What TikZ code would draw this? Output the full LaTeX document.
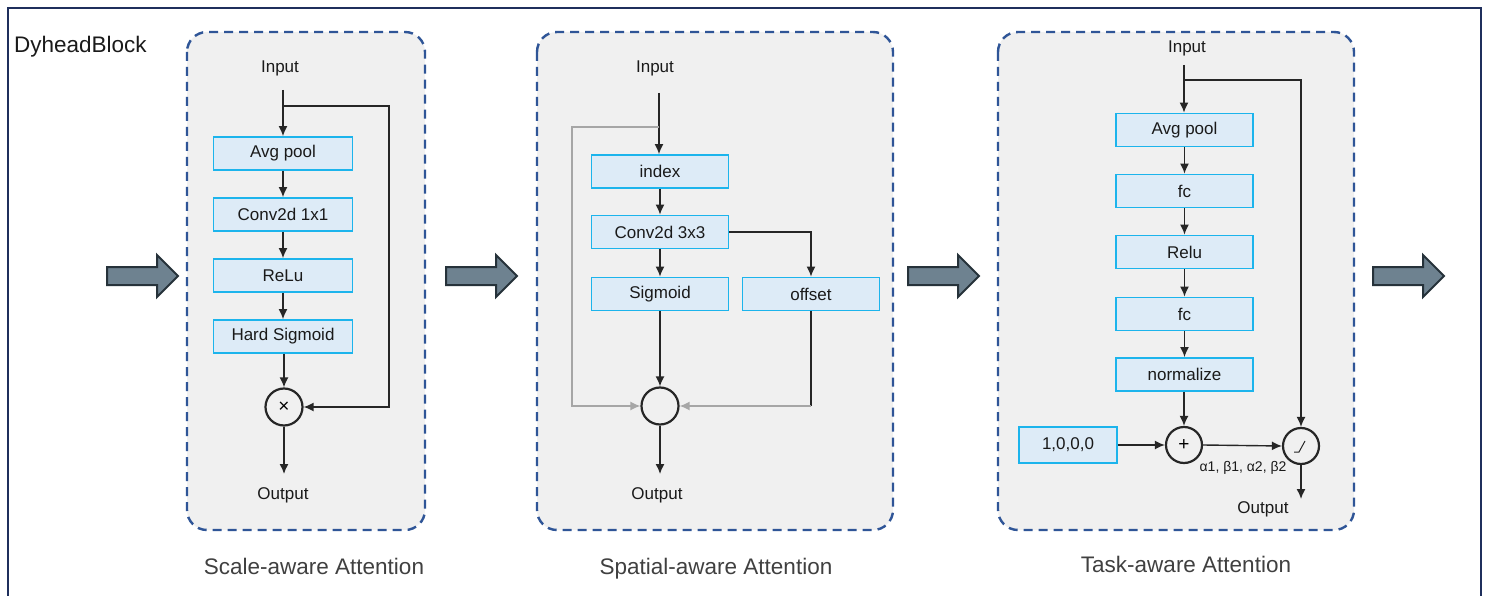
\documentclass[tikz,border=0pt]{standalone}
\usepackage{fontspec}
\setmainfont{Liberation Sans}
\usetikzlibrary{arrows.meta,calc}
\definecolor{panelfill}{HTML}{F0F0F0}
\definecolor{paneldraw}{HTML}{2F5597}
\definecolor{boxfill}{HTML}{DDEBF7}
\definecolor{boxdraw}{HTML}{1CB4EC}
\definecolor{framecol}{HTML}{1F2F5C}
\definecolor{bigfill}{HTML}{6E8290}
\definecolor{bigdraw}{HTML}{26323A}
\definecolor{capcol}{HTML}{404040}
\definecolor{glinecol}{HTML}{A6A6A6}
\definecolor{txtcol}{HTML}{1A1A1A}
\tikzset{
  panel/.style={draw=paneldraw, fill=panelfill, line width=2.4pt, dash pattern=on 9pt off 6pt, rounded corners=20pt},
  box/.style={draw=boxdraw, fill=boxfill, line width=1.8pt, minimum width=139pt, minimum height=33pt, inner sep=0pt, font=\fontsize{17}{20}\selectfont, text=txtcol},
  lbl/.style={font=\fontsize{17}{20}\selectfont, text=txtcol, inner sep=0pt},
  small/.style={font=\fontsize{14}{16}\selectfont, text=txtcol, inner sep=0pt},
  captext/.style={font=\fontsize{22.5}{26}\selectfont, text=capcol, inner sep=0pt, anchor=base},
  op/.style={draw=black!85, circle, line width=2.2pt, minimum size=37pt, inner sep=0pt, font=\fontsize{19}{22}\selectfont},
  conn/.style={draw=black!85, line width=1.4pt},
  arr/.style={conn, -{Latex[length=10pt,width=9pt]}},
  gconn/.style={draw=glinecol, line width=1.4pt},
  garr/.style={gconn, -{Latex[length=10pt,width=9pt]}},
  bigarrow/.style={draw=bigdraw, fill=bigfill, line width=2pt, line join=miter},
  framestyle/.style={draw=framecol, line width=2.2pt}
}
\begin{document}
\begin{tikzpicture}[x=1pt,y=-1pt]
\useasboundingbox[fill=white] (0,0) rectangle (1491,596);
% outer frame
\draw[framestyle] (8,597) -- (8,8) -- (1481,8) -- (1481,597);
\node[anchor=west, font=\fontsize{22.5}{26}\selectfont, text=txtcol, inner sep=0pt] (title) at (14,47) {DyheadBlock};

% big arrows
\foreach \x in {107,446,908,1373} {
  \draw[bigarrow] (\x,267) -- ++(50,0) -- ++(0,-12) -- ++(21,21) -- ++(-21,21) -- ++(0,-12) -- ++(-50,0) -- cycle;
}

% panels
\path[panel] (187,32) rectangle (425,530);
\path[panel] (537,32) rectangle (893,530);
\path[panel] (998,32) rectangle (1354,530);

% captions
\node[captext] (cap1) at (314,574) {Scale-aware Attention};
\node[captext] (cap2) at (716,574) {Spatial-aware Attention};
\node[captext] (cap3) at (1186,572) {Task-aware Attention};

% ---------- Panel 1 ----------
\node[lbl] (tin1) at (280,68) {Input};
\coordinate (in1) at (283,90);
\coordinate (br1) at (283,106);
\coordinate (rc1) at (389,106);
\node[box] (a1) at (283,153.5) {Avg pool};
\node[box] (c1) at (283,214.5) {Conv2d 1x1};
\node[box] (r1) at (283,275.5) {ReLu};
\node[box] (h1) at (283,336.5) {Hard Sigmoid};
\node[op] (m1) at (284,407) {×};
\coordinate (o1) at (284,474);
\node[lbl] (tout1) at (283,495) {Output};
\draw[arr] (in1) -- (in1 |- a1.north);
\draw[arr] (br1) -- (rc1) |- (m1.east);
\draw[arr] (a1) -- (c1);
\draw[arr] (c1) -- (r1);
\draw[arr] (r1) -- (h1);
\draw[arr] (m1.north |- h1.south) -- (m1.north);
\draw[arr] (m1.south) -- (o1);

% ---------- Panel 2 ----------
\node[lbl] (tin2) at (655,68) {Input};
\coordinate (in2) at (659,93);
\coordinate (br2) at (659,127);
\coordinate (lc2) at (572,127);
\node[box, minimum width=137pt] (idx) at (660,171.5) {index};
\node[box, minimum width=137pt] (cv) at (660,232) {Conv2d 3x3};
\node[box, minimum width=137pt] (sg) at (660,294) {Sigmoid};
\node[box, minimum width=137pt] (off) at (811,294) {offset};
\node[op] (m2) at (660,406) {};
\coordinate (oc2) at (811,406);
\coordinate (o2) at (660,474);
\node[lbl] (tout2) at (657,495) {Output};
\draw[arr] (in2) -- (in2 |- idx.north);
\draw[garr] (br2) -- (lc2) |- (m2.west);
\draw[arr] (idx) -- (cv);
\draw[arr] (cv) -- (sg);
\draw[arr] (cv.east) -| (off.north);
\draw[arr] (sg) -- (m2);
\draw[conn] (off.south) -- (oc2);
\draw[garr] (oc2) -- (m2.east);
\draw[arr] (m2) -- (o2);

% ---------- Panel 3 ----------
\node[lbl] (tin3) at (1187,48) {Input};
\coordinate (in3) at (1184,65);
\coordinate (br3) at (1184,80);
\node[box, minimum width=137pt] (ap3) at (1184.5,130) {Avg pool};
\node[box, minimum width=137pt] (fc1) at (1184.5,191) {fc};
\node[box, minimum width=137pt] (rl3) at (1184.5,252) {Relu};
\node[box, minimum width=137pt] (fc2) at (1184.5,314) {fc};
\node[box, minimum width=137pt] (nm3) at (1184.5,374.5) {normalize};
\node[op, minimum size=36pt] (pl3) at (1184,445) {+};
\node[op, minimum size=36pt] (t3) at (1301,446) {};
\node[box, minimum width=98pt, minimum height=36pt] (one) at (1068,445) {1,0,0,0};
\node[small] (coef) at (1243,468) {α1, β1, α2, β2};
\coordinate (o3) at (1301,499);
\node[lbl] (tout3) at (1263,509) {Output};
\draw[line width=1pt, black!85] ($(t3.center)+(-7,6)$) -- ($(t3.center)+(-2,6)$) -- ($(t3.center)+(4,-5)$);
\draw[arr] (in3) -- (in3 |- ap3.north);
\draw[arr] (br3) -| (t3.north);
\draw[arr] (ap3) -- (fc1);
\draw[arr] (fc1) -- (rl3);
\draw[arr] (rl3) -- (fc2);
\draw[arr] (fc2) -- (nm3);
\draw[arr] (pl3.north |- nm3.south) -- (pl3.north);
\draw[arr] (one.east) -- (pl3.west);
\draw[arr] (pl3.east) -- (t3.west);
\draw[arr] (t3.south) -- (o3);
\end{tikzpicture}
\end{document}
